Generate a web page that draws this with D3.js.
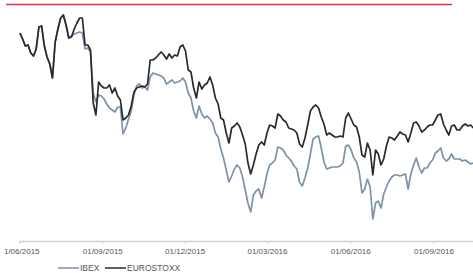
<!DOCTYPE html>
<html>
<head>
<meta charset="utf-8">
<script src="https://cdn.jsdelivr.net/npm/d3@7/dist/d3.min.js"></script>
<style>
  html,body{margin:0;padding:0;background:#fff;overflow:hidden;}
  svg{display:block;font-family:"Liberation Sans",Arial,sans-serif;}
</style>
</head>
<body>
<svg id="chart" width="473" height="273"></svg>
<script>
// series rebased (start = 100), one value every 3 days from 02/06/2015
const ibex=[
  100.0,98.8,97.4,97.6,96.0,95.4,96.8,101.2,101.4,97.4,95.2,93.8,
  91.0,98.2,100.8,103.0,103.6,101.6,99.0,99.4,99.8,100.0,100.2,100.0,
  96.8,97.0,96.2,88.0,86.2,87.6,87.4,86.8,85.8,85.0,84.6,84.2,
  85.2,85.2,79.8,81.0,82.8,84.4,87.6,89.4,89.8,89.0,89.2,88.6,
  91.2,92.0,91.8,91.6,91.4,91.0,89.8,90.2,90.6,90.0,90.2,90.4,
  91.0,90.2,88.0,87.0,84.4,83.0,85.4,83.8,83.0,83.4,82.8,82.0,
  80.0,79.2,76.8,75.0,72.6,70.2,71.4,72.8,73.6,73.0,71.2,68.6,
  66.0,64.2,67.6,68.4,68.8,67.0,69.2,71.8,73.6,74.0,74.6,77.2,
  77.0,76.6,75.6,75.0,74.4,73.4,72.8,70.2,69.4,71.0,73.0,75.8,
  78.8,79.2,79.4,77.0,74.2,72.8,73.0,73.2,73.2,73.2,73.4,74.0,
  77.4,77.6,76.6,75.0,74.2,72.2,68.0,68.8,70.8,69.2,62.8,66.0,
  66.4,65.0,67.8,69.2,70.4,71.2,71.6,71.6,71.4,71.6,71.8,68.8,
  71.8,73.6,75.0,73.2,72.0,73.0,73.0,74.0,74.6,76.0,76.4,77.0,
  75.0,74.4,74.8,75.8,74.8,74.8,74.8,74.4,74.6,74.2,73.8,74.0
];
const eurostoxx=[
  100.0,98.8,97.4,97.6,96.0,95.4,96.8,101.2,101.4,97.4,95.2,93.8,
  91.0,98.2,100.8,103.0,103.6,101.6,99.0,99.2,100.8,102.0,103.0,103.0,
  97.6,97.6,96.6,86.0,83.6,90.2,89.4,89.0,89.0,89.6,88.0,89.0,
  87.4,86.6,82.6,83.0,83.6,85.4,88.2,89.0,89.2,89.4,89.2,89.8,
  94.6,94.6,95.0,95.6,96.2,95.6,94.8,95.8,95.0,95.6,95.4,97.2,
  97.6,96.4,92.6,92.2,89.0,87.0,90.2,88.8,89.6,90.0,91.2,89.6,
  87.0,85.8,83.0,82.6,80.0,78.0,81.0,81.4,82.0,81.2,79.6,77.8,
  74.0,71.8,73.6,75.8,77.6,78.2,77.6,80.0,81.6,81.4,81.0,83.8,
  83.4,82.6,82.2,81.0,80.8,80.6,80.0,77.8,77.2,79.0,81.6,84.4,
  85.2,85.6,85.0,83.2,81.8,79.6,80.0,79.6,79.2,79.2,79.4,79.2,
  83.0,84.0,82.8,81.6,81.2,79.2,75.6,75.2,78.0,76.6,71.6,76.6,
  75.8,73.6,74.8,77.4,79.2,79.0,78.6,79.4,80.2,79.8,79.6,78.2,
  80.0,82.0,82.2,81.4,80.2,80.6,81.2,81.6,81.6,82.6,83.6,83.8,
  81.8,80.6,79.6,81.4,81.6,80.6,80.6,81.4,81.8,81.4,81.6,81.0
];
const tickDates=["2015-06-01","2015-09-01","2015-12-01","2016-03-01","2016-06-01","2016-09-01"];
const tickLabels=["01/06/2015","01/09/2015","01/12/2015","01/03/2016","01/06/2016","01/09/2016"];
const seriesNames=["IBEX","EUROSTOXX"];
const seriesColors=["#7d91ab","#2a2a2a"];

const parse=d3.utcParse("%Y-%m-%d");
const dates=d3.utcDay.range(parse("2015-06-02"),parse("2016-10-16"),3);

const svg=d3.select("#chart");

const x=d3.scaleUtc()
  .domain([parse("2015-06-01"),parse("2016-10-15")])
  .range([19,473.3]);
const y=d3.scaleLinear().domain([60,105]).range([233,8]);

// the first date label is cut on its left side
svg.append("clipPath").attr("id","axisclip")
  .append("rect").attr("x",5).attr("y",230).attr("width",470).attr("height",30);

// red rule on top
svg.append("line")
  .attr("x1",6).attr("x2",452).attr("y1",4.5).attr("y2",4.5)
  .attr("stroke","#e0344e").attr("stroke-width",1.6);

// axis
const axis=d3.axisBottom(x)
  .tickValues(tickDates.map(parse))
  .tickFormat((d,i)=>tickLabels[i])
  .tickSize(3)
  .tickSizeOuter(0);
const gx=svg.append("g").attr("clip-path","url(#axisclip)")
  .append("g").attr("transform","translate(0,241)").call(axis);
gx.select(".domain").attr("stroke","#d0d0d0").attr("stroke-width",1.5);
gx.selectAll(".tick line").attr("stroke","#d0d0d0");
gx.selectAll(".tick text")
  .attr("fill","#555").attr("font-size",8).attr("dy","0.9em")
  .attr("font-family","Liberation Sans, Arial, sans-serif");

// lines
const series=[ibex,eurostoxx];
const line=d3.line()
  .x((d,i)=>x(dates[i]))
  .y(d=>y(d));
series.forEach((s,si)=>{
  svg.append("path")
    .datum(s.slice(0,dates.length))
    .attr("fill","none")
    .attr("stroke",seriesColors[si])
    .attr("stroke-width",1.7)
    .attr("stroke-linejoin","round")
    .attr("d",line);
});

// legend
const legendX=[58,105];
const lg=svg.append("g").attr("transform","translate(0,268)");
seriesNames.forEach((n,i)=>{
  lg.append("line")
    .attr("x1",legendX[i]).attr("x2",legendX[i]+21)
    .attr("stroke",seriesColors[i]).attr("stroke-width",1.5);
  lg.append("text")
    .attr("x",legendX[i]+22).attr("dy","0.35em")
    .attr("font-size",8.5).attr("fill","#555")
    .text(n);
});
</script>
</body>
</html>
